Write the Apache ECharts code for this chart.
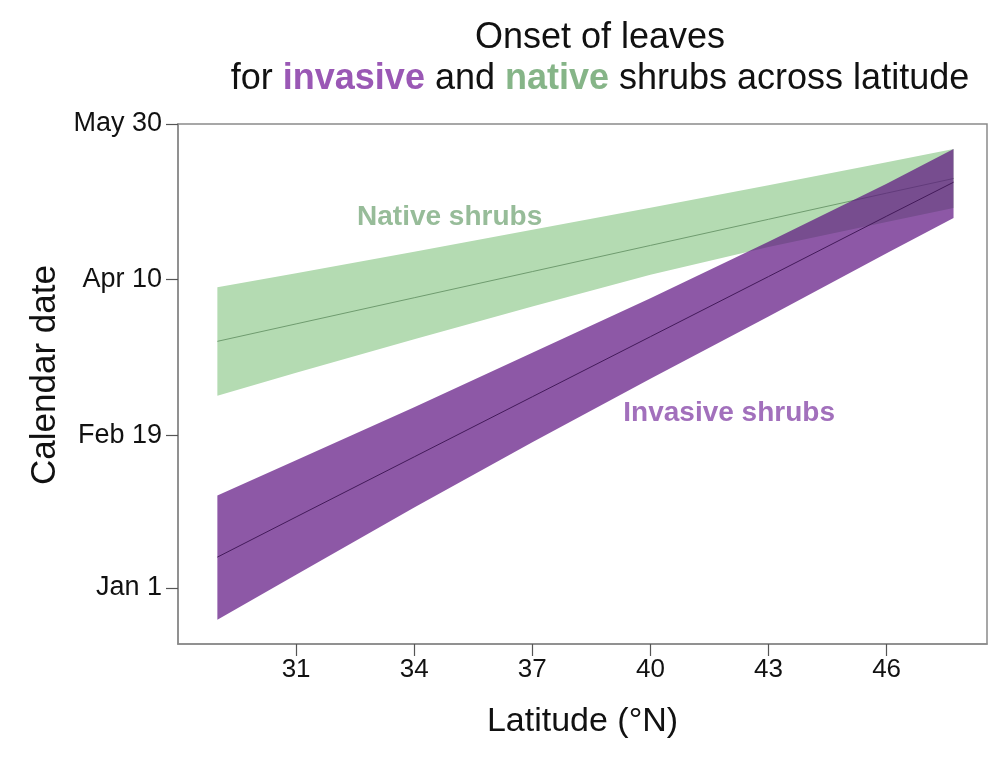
<!DOCTYPE html>
<html><head><meta charset="utf-8">
<script src="https://cdn.jsdelivr.net/npm/echarts@6/dist/echarts.min.js"></script>
<style>html,body{margin:0;padding:0;background:#fff}#c{width:1000px;height:765px}</style>
</head><body><div id="c"></div>
<script>
// ---- data (day of year on y, latitude on x) ----
const latitudes     = [29, 31, 34, 37, 40, 43, 46, 47.7];
const nativeFit     = [80.2, 85.8, 94.2, 102.6, 111.0, 119.4, 127.8, 132.5];
const nativeLower   = [62.7, 70.1, 80.9, 91.4, 101.6, 110.5, 118.5, 123.0];
const nativeUpper   = [97.6, 102.1, 109.0, 116.0, 123.1, 130.3, 137.7, 142.0];
const invasiveFit   = [10.9, 23.8, 43.1, 62.4, 81.7, 101.0, 120.4, 131.3];
const invasiveLower = [-9.2, 5.2, 26.8, 47.8, 68.2, 88.2, 108.5, 119.8];
const invasiveUpper = [30.7, 42.0, 59.0, 76.5, 94.0, 112.2, 130.8, 142.0];
const latTicks      = [31, 34, 37, 40, 43, 46];
const dayTicks      = [1, 50, 100, 150];
const dayTickLabels = ['Jan 1', 'Feb 19', 'Apr 10', 'May 30'];
const groupLabels   = ['Native shrubs', 'Invasive shrubs'];
const groupLabelAt  = [[34.9, 119.9], [42.0, 57.2]];

const FONT = '"Liberation Sans", Arial, sans-serif';
const chart = echarts.init(document.getElementById('c'), null, {renderer: 'canvas'});

function bandSeries(name, lower, upper, fill, z) {
  return {
    type: 'custom', name: name, z: z,
    data: latitudes.map((x, i) => [x, lower[i], upper[i]]),
    encode: {x: 0, y: [1, 2]},
    silent: true,
    renderItem: function (params, api) {
      if (params.dataIndex !== 0) return null;
      const pts = [];
      for (let i = 0; i < latitudes.length; i++) pts.push(api.coord([latitudes[i], upper[i]]));
      for (let i = latitudes.length - 1; i >= 0; i--) pts.push(api.coord([latitudes[i], lower[i]]));
      return {type: 'polygon', shape: {points: pts}, style: {fill: fill}};
    }
  };
}

const option = {
  backgroundColor: '#fff',
  animation: false,
  title: {
    left: 595, top: 13, textAlign: 'center',
    text: 'Onset of leaves\n{n|for }{inv|invasive}{n| and }{nat|native}{n| shrubs across latitude}',
    textStyle: {
      fontFamily: FONT, fontSize: 36, fontWeight: 'normal', color: '#111', lineHeight: 41,
      rich: {
        n: {fontFamily: FONT, fontSize: 36, color: '#111', lineHeight: 41},
        inv: {fontFamily: FONT, fontSize: 36, fontWeight: 'bold', color: '#9a58b5', lineHeight: 41},
        nat: {fontFamily: FONT, fontSize: 36, fontWeight: 'bold', color: '#86b588', lineHeight: 41}
      }
    }
  },
  grid: {left: 178, right: 13, top: 124, bottom: 121, show: true, borderColor: '#8a8a8a', borderWidth: 1.5, containLabel: false},
  xAxis: {
    type: 'value', min: 28.0, max: 48.55,
    name: 'Latitude (°N)', nameLocation: 'middle', nameGap: 61,
    nameTextStyle: {fontFamily: FONT, fontSize: 34, color: '#111'},
    axisLine: {show: true, onZero: false, lineStyle: {color: '#8a8a8a', width: 1.5}},
    axisTick: {show: true, length: 12, customValues: latTicks, lineStyle: {color: '#555', width: 1.2}},
    axisLabel: {customValues: latTicks, fontFamily: FONT, fontSize: 26, color: '#111', margin: 13},
    splitLine: {show: false}
  },
  yAxis: {
    type: 'value', min: -17, max: 150,
    name: 'Calendar date', nameLocation: 'middle', nameGap: 113, nameRotate: 90,
    nameTextStyle: {fontFamily: FONT, fontSize: 35, color: '#111', padding: [0, 0, 0, 18]},
    axisLine: {show: true, onZero: false, lineStyle: {color: '#8a8a8a', width: 1.5}},
    axisTick: {show: true, length: 12, customValues: dayTicks, lineStyle: {color: '#555', width: 1.2}},
    axisLabel: {
      customValues: dayTicks, fontFamily: FONT, fontSize: 27, color: '#111', margin: 16,
      formatter: function (v) { const i = dayTicks.indexOf(v); return i >= 0 ? dayTickLabels[i] : ''; }
    },
    splitLine: {show: false}
  },
  series: [
    bandSeries('Native band', nativeLower, nativeUpper, 'rgb(180,219,178)', 1),
    {
      type: 'line', name: 'Native fit', z: 2, showSymbol: false, silent: true,
      data: latitudes.map((x, i) => [x, nativeFit[i]]),
      lineStyle: {color: '#6f9c6f', width: 1}
    },
    bandSeries('Invasive band', invasiveLower, invasiveUpper, 'rgba(92,17,128,0.7)', 3),
    {
      type: 'line', name: 'Invasive fit', z: 4, showSymbol: false, silent: true,
      data: latitudes.map((x, i) => [x, invasiveFit[i]]),
      lineStyle: {color: '#431a5a', width: 1}
    },
    {
      type: 'scatter', name: 'labels', z: 5, symbolSize: 0, silent: true,
      data: [
        {value: groupLabelAt[0], label: {formatter: groupLabels[0], color: '#7dab7f'}},
        {value: groupLabelAt[1], label: {formatter: groupLabels[1], color: '#8b4cab'}}
      ],
      label: {show: true, position: 'inside', fontFamily: FONT, fontSize: 28, fontWeight: 'bold'}
    }
  ]
};
chart.setOption(option);
</script>
</body></html>
